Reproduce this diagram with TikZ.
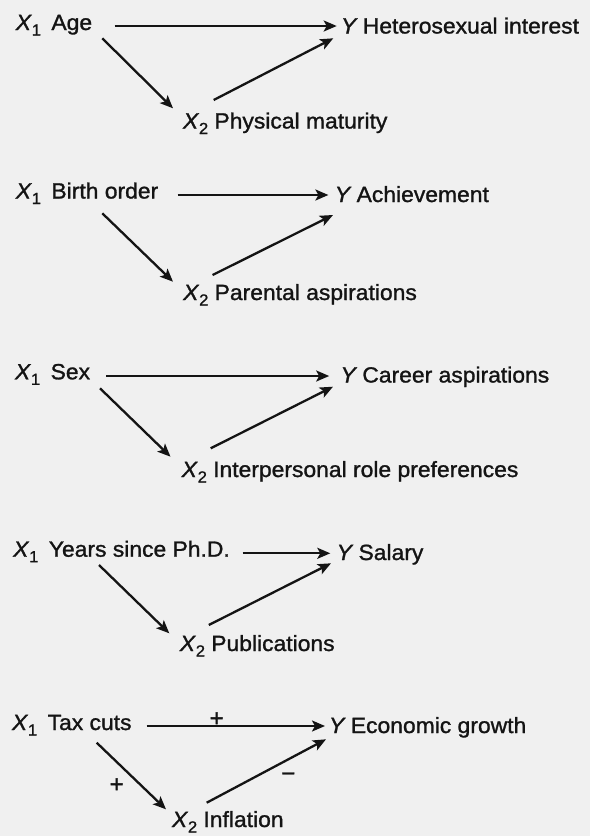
\documentclass[tikz,border=0pt]{standalone}
\usepackage{fontspec}
\setmainfont{Liberation Sans}[FakeBold=1.2]
\usetikzlibrary{arrows.meta,calc}
\definecolor{ink}{RGB}{20,20,20}
\definecolor{bg}{RGB}{240,240,240}
\newcommand{\sx}[1]{\scalebox{1.04}[1]{#1}}
\newcommand{\Xs}[1]{\textit{X}\raisebox{-5.5pt}{\fontsize{16}{16}\selectfont #1}}
\begin{document}
\begin{tikzpicture}[x=1pt,y=-1pt,
  lbl/.style={anchor=base west,inner sep=0pt,outer sep=0pt,font=\fontsize{22}{26}\selectfont,text=ink},
  arr/.style={line width=2.3pt,draw=ink,-{Stealth[length=13pt,width=11pt,inset=3pt]}},
  sgn/.style={inner sep=0pt,font=\fontsize{24}{28}\selectfont,text=ink}]
\fill[bg] (0,0) rectangle (590,836);
\useasboundingbox (0,0) rectangle (590,836);

% Group 1
\node[lbl] (g1x1) at (15.8,30) {\sx{\Xs{1}\hspace{10pt}Age}};
\node[lbl] (g1y) at (341,33.5) {\sx{\textit{Y}\hspace{5pt}Heterosexual interest}};
\node[lbl] (g1x2) at (183,128.5) {\sx{\Xs{2}\hspace{6pt}Physical maturity}};
\draw[arr] ($(g1x1.base west)+(98.9,-4)$) -- ($(g1y.base west)+(-4.3,-7.5)$);
\draw[arr] ($(g1x1.base west)+(86.5,8.3)$) -- ($(g1x2.base west)+(-10,-20.2)$);
\draw[arr] ($(g1x2.base west)+(30.7,-28.5)$) -- ($(g1y.base west)+(-7.7,4.8)$);

% Group 2
\node[lbl] (g2x1) at (15.8,198.5) {\sx{\Xs{1}\hspace{10pt}Birth order}};
\node[lbl] (g2y) at (334.8,202) {\sx{\textit{Y}\hspace{5pt}Achievement}};
\node[lbl] (g2x2) at (183.2,300) {\sx{\Xs{2}\hspace{6pt}Parental aspirations}};
\draw[arr] ($(g2x1.base west)+(161.8,-3.5)$) -- ($(g2y.base west)+(-6.4,-7)$);
\draw[arr] ($(g2x1.base west)+(86.5,14.8)$) -- ($(g2x2.base west)+(-10.2,-18.3)$);
\draw[arr] ($(g2x2.base west)+(29.4,-25)$) -- ($(g2y.base west)+(-1.8,13)$);

% Group 3
\node[lbl] (g3x1) at (15,379.3) {\sx{\Xs{1}\hspace{10pt}Sex}};
\node[lbl] (g3y) at (340.5,382.5) {\sx{\textit{Y}\hspace{5pt}Career aspirations}};
\node[lbl] (g3x2) at (181.7,477) {\sx{\Xs{2}\hspace{6pt}Interpersonal role preferences}};
\draw[arr] ($(g3x1.base west)+(91,-3.3)$) -- ($(g3y.base west)+(-11.3,-6.5)$);
\draw[arr] ($(g3x1.base west)+(85,9)$) -- ($(g3x2.base west)+(-11.2,-20.3)$);
\draw[arr] ($(g3x2.base west)+(29,-28.7)$) -- ($(g3y.base west)+(-7.5,4.2)$);

% Group 4
\node[lbl] (g4x1) at (13.2,556.7) {\sx{\Xs{1}\hspace{10pt}Years since Ph.D.}};
\node[lbl] (g4y) at (336.7,560) {\sx{\textit{Y}\hspace{5pt}Salary}};
\node[lbl] (g4x2) at (179.8,651) {\sx{\Xs{2}\hspace{6pt}Publications}};
\draw[arr] ($(g4x1.base west)+(229.5,-3.4)$) -- ($(g4y.base west)+(-6.4,-6.7)$);
\draw[arr] ($(g4x1.base west)+(85.8,8.3)$) -- ($(g4x2.base west)+(-10.5,-17.7)$);
\draw[arr] ($(g4x2.base west)+(29,-26)$) -- ($(g4y.base west)+(-5.7,3.3)$);

% Group 5
\node[lbl] (g5x1) at (12,730) {\sx{\Xs{1}\hspace{10pt}Tax cuts}};
\node[lbl] (g5y) at (329,733) {\sx{\textit{Y}\hspace{5pt}Economic growth}};
\node[lbl] (g5x2) at (172,827) {\sx{\Xs{2}\hspace{6pt}Inflation}};
\draw[arr] ($(g5x1.base west)+(134.7,-4)$) -- ($(g5y.base west)+(-4,-7)$);
\draw[arr] ($(g5x1.base west)+(84.7,12.7)$) -- ($(g5x2.base west)+(-6,-17.7)$);
\draw[arr] ($(g5x2.base west)+(34.7,-24.3)$) -- ($(g5y.base west)+(-3,6.3)$);
\node[sgn] (s1) at (216.7,719.3) {+};
\node[sgn] (s2) at (116.7,785.3) {+};
\node[sgn] (s3) at (288.3,777) {−};
\end{tikzpicture}
\end{document}
